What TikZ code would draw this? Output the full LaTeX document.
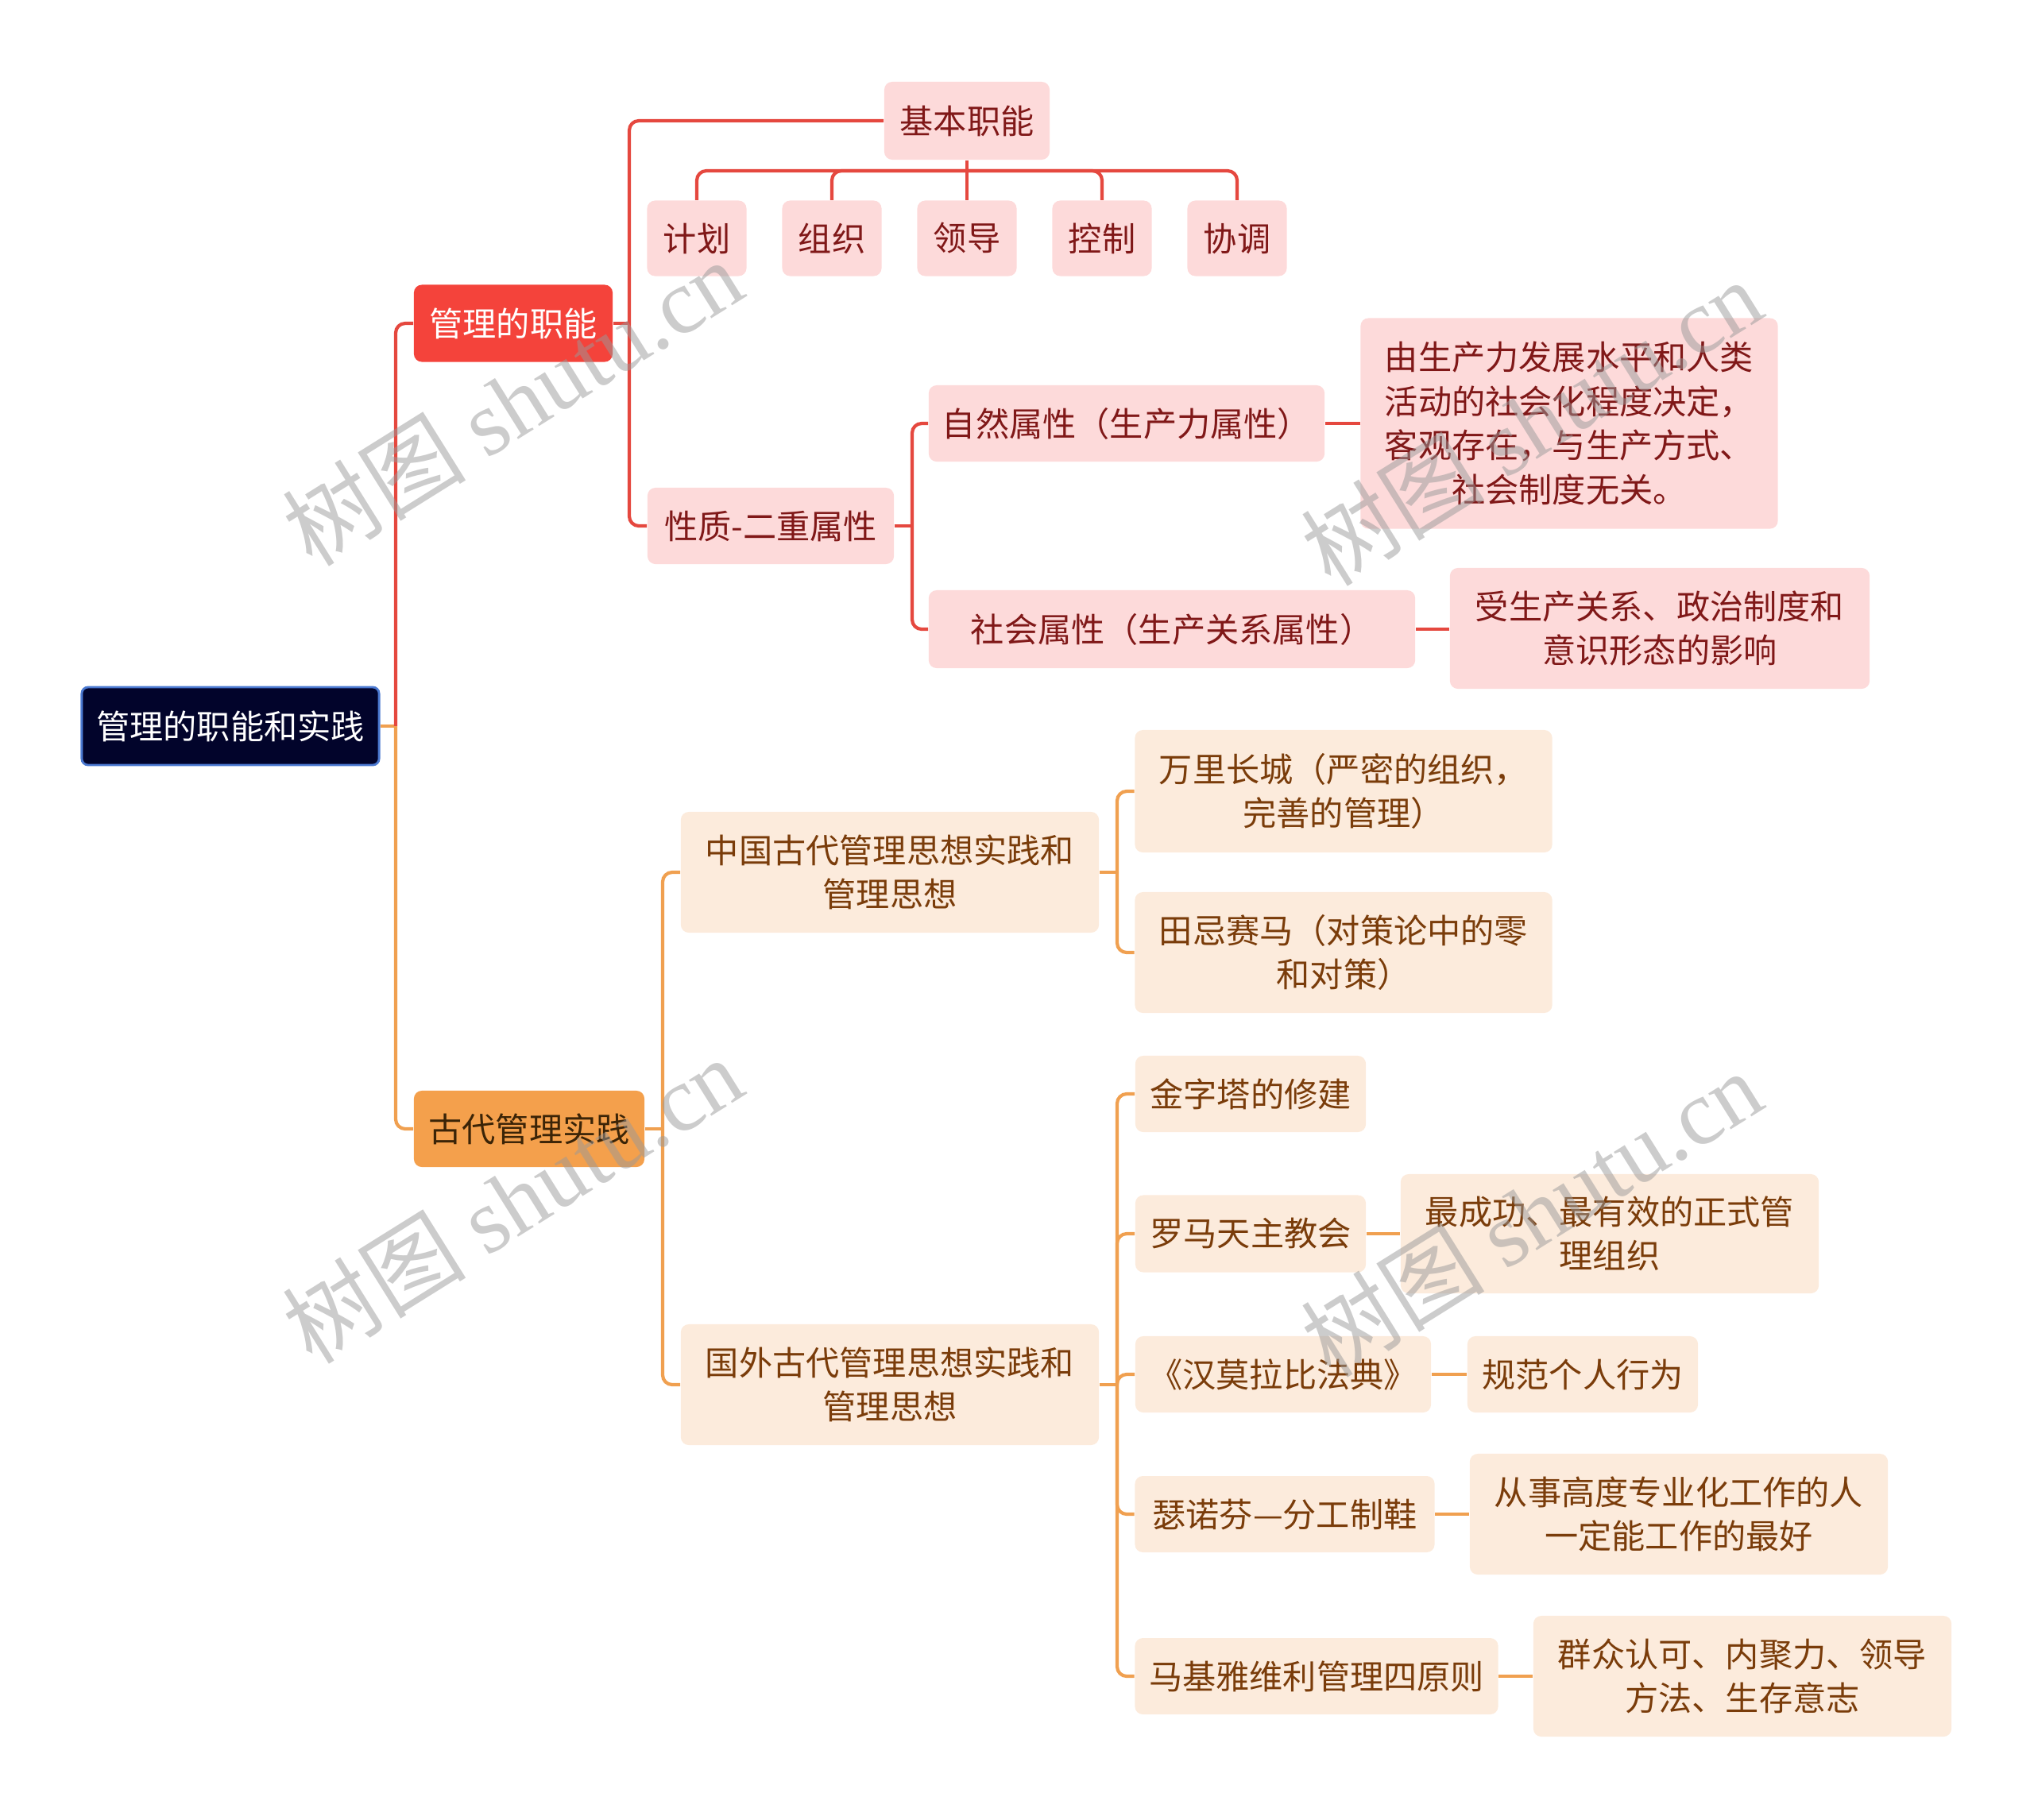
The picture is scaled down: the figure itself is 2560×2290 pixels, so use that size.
\documentclass[tikz,border=0pt]{standalone}
\usepackage{fontspec}
\setmainfont{Noto Sans CJK SC}
\newfontfamily\wmfont{Liberation Serif}
\usetikzlibrary{positioning}

\definecolor{rootfill}{HTML}{02042B}
\definecolor{rootedge}{HTML}{4A78D0}
\definecolor{redfill}{HTML}{F4433B}
\definecolor{redln}{HTML}{E5483F}
\definecolor{pinkfill}{HTML}{FDDADA}
\definecolor{pinktext}{HTML}{801818}
\definecolor{ancfill}{HTML}{F4A04C}
\definecolor{anctext}{HTML}{3B2407}
\definecolor{peachfill}{HTML}{FCEBDC}
\definecolor{peachtext}{HTML}{7A3C0A}
\definecolor{orangeln}{HTML}{F0A050}

\begin{document}
\begin{tikzpicture}[
    x=0.01cm, y=-0.01cm,
    every node/.style={font=\fontsize{12pt}{15.8pt}\selectfont, align=center, inner sep=0pt},
    rootnode/.style={draw=rootedge, line width=0.8pt, fill=rootfill, text=white, rounded corners=0.08cm},
    fnnode/.style={fill=redfill, text=white, rounded corners=0.1cm},
    ancnode/.style={fill=ancfill, text=anctext, rounded corners=0.1cm},
    pinknode/.style={fill=pinkfill, text=pinktext, rounded corners=0.1cm},
    peachnode/.style={fill=peachfill, text=peachtext, rounded corners=0.1cm},
    redline/.style={draw=redln, line width=1.2pt, rounded corners=0.12cm},
    orangeline/.style={draw=orangeln, line width=1.2pt, rounded corners=0.12cm},
    wmark/.style={text=black!40, opacity=0.5, rotate=32, font=\fontsize{33pt}{33pt}\selectfont}
]
\useasboundingbox (0,0) rectangle (2560,2290);

% Root and first level
\node[rootnode, minimum width=3.74cm, minimum height=0.98cm] (root) at (290,914) {管理的职能和实践};
\node[fnnode, minimum width=2.50cm, minimum height=0.97cm] (func) at (646,407) {管理的职能};
\node[ancnode, minimum width=2.90cm, minimum height=0.96cm] (anc) at (666,1421) {古代管理实践};

% Functions branch
\node[pinknode, minimum width=2.08cm, minimum height=0.98cm] (basic) at (1217,152) {基本职能};
\node[pinknode, minimum width=1.25cm, minimum height=0.95cm] (plan) at (877,300) {计划};
\node[pinknode, minimum width=1.25cm, minimum height=0.95cm] (organize) at (1047,300) {组织};
\node[pinknode, minimum width=1.25cm, minimum height=0.95cm] (lead) at (1217,300) {领导};
\node[pinknode, minimum width=1.25cm, minimum height=0.95cm] (control) at (1387,300) {控制};
\node[pinknode, minimum width=1.25cm, minimum height=0.95cm] (coord) at (1557,300) {协调};
\node[pinknode, minimum width=3.10cm, minimum height=0.96cm] (dual) at (970,662) {性质-二重属性};
\node[pinknode, minimum width=4.98cm, minimum height=0.96cm] (natural) at (1418,533) {自然属性（生产力属性）};
\node[pinknode, minimum width=6.12cm, minimum height=0.98cm] (social) at (1475,792) {社会属性（生产关系属性）};
\node[pinknode, minimum width=5.25cm, minimum height=2.65cm] (naturaldesc) at (1975,533) {由生产力发展水平和人类\\活动的社会化程度决定，\\客观存在，与生产方式、\\社会制度无关。};
\node[pinknode, minimum width=5.28cm, minimum height=1.52cm] (socialdesc) at (2089,791) {受生产关系、政治制度和\\意识形态的影响};

% Ancient practice branch
\node[peachnode, minimum width=5.26cm, minimum height=1.52cm] (china) at (1120,1098) {中国古代管理思想实践和\\管理思想};
\node[peachnode, minimum width=5.26cm, minimum height=1.52cm] (abroad) at (1120,1743) {国外古代管理思想实践和\\管理思想};
\node[peachnode, minimum width=5.25cm, minimum height=1.54cm] (wall) at (1691,996) {万里长城（严密的组织，\\完善的管理）};
\node[peachnode, minimum width=5.25cm, minimum height=1.52cm] (horse) at (1691,1199) {田忌赛马（对策论中的零\\和对策）};
\node[peachnode, minimum width=2.90cm, minimum height=0.96cm] (pyramid) at (1574,1377) {金字塔的修建};
\node[peachnode, minimum width=2.90cm, minimum height=0.97cm] (rome) at (1574,1553) {罗马天主教会};
\node[peachnode, minimum width=5.26cm, minimum height=1.50cm] (romedesc) at (2026,1553) {最成功、最有效的正式管\\理组织};
\node[peachnode, minimum width=3.72cm, minimum height=0.96cm] (hammurabi) at (1615,1730) {《汉莫拉比法典》};
\node[peachnode, minimum width=2.90cm, minimum height=0.96cm] (hammurabidesc) at (1992,1730) {规范个人行为};
\node[peachnode, minimum width=3.77cm, minimum height=0.96cm] (xenophon) at (1617,1906) {瑟诺芬—分工制鞋};
\node[peachnode, minimum width=5.26cm, minimum height=1.52cm] (xenophondesc) at (2113,1906) {从事高度专业化工作的人\\一定能工作的最好};
\node[peachnode, minimum width=4.57cm, minimum height=0.96cm] (machia) at (1657,2110) {马基雅维利管理四原则};
\node[peachnode, minimum width=5.26cm, minimum height=1.52cm] (machiadesc) at (2193,2110) {群众认可、内聚力、领导\\方法、生存意志};

% Junctions
\coordinate (rootj) at (498,914);
\coordinate (funcj) at (792,407);
\coordinate (basicj) at (1217,215);
\coordinate (dualj) at (1148,662);
\coordinate (ancj) at (834,1421);
\coordinate (chinaj) at (1406,1098);
\coordinate (abroadj) at (1406,1743);

% Connectors, red side
\draw[orangeline] (root.east) -- (rootj);
\draw[redline] (rootj) |- (func.west);
\draw[redline] (func.east) -- (funcj);
\draw[redline] (funcj) |- (basic.west);
\draw[redline] (funcj) |- (dual.west);
\draw[redline] (basic.south) -- (basicj);
\foreach \k in {plan,organize,lead,control,coord}
    \draw[redline] (basicj) -| (\k.north);
\draw[redline] (dual.east) -- (dualj);
\draw[redline] (dualj) |- (natural.west);
\draw[redline] (dualj) |- (social.west);
\draw[redline] (natural.east) -- (naturaldesc.west |- natural.east);
\draw[redline] (social.east) -- (socialdesc.west |- social.east);

% Connectors, orange side
\draw[orangeline] (rootj) |- (anc.west);
\draw[orangeline] (anc.east) -- (ancj);
\draw[orangeline] (ancj) |- (china.west);
\draw[orangeline] (ancj) |- (abroad.west);
\draw[orangeline] (china.east) -- (chinaj);
\draw[orangeline] (chinaj) |- (wall.west);
\draw[orangeline] (chinaj) |- (horse.west);
\draw[orangeline] (abroad.east) -- (abroadj);
\foreach \k in {pyramid,rome,hammurabi,xenophon,machia}
    \draw[orangeline] (abroadj) |- (\k.west);
\draw[orangeline] (rome.east) -- (romedesc.west |- rome.east);
\draw[orangeline] (hammurabi.east) -- (hammurabidesc.west);
\draw[orangeline] (xenophon.east) -- (xenophondesc.west |- xenophon.east);
\draw[orangeline] (machia.east) -- (machiadesc.west |- machia.east);

% Watermarks
\node[wmark] (wm1) at (645,506) {树图 {\wmfont shutu.cn}};
\node[wmark] (wm2) at (1927,531) {树图 {\wmfont shutu.cn}};
\node[wmark] (wm3) at (645,1510) {树图 {\wmfont shutu.cn}};
\node[wmark] (wm4) at (1927,1527) {树图 {\wmfont shutu.cn}};

\end{tikzpicture}
\end{document}
